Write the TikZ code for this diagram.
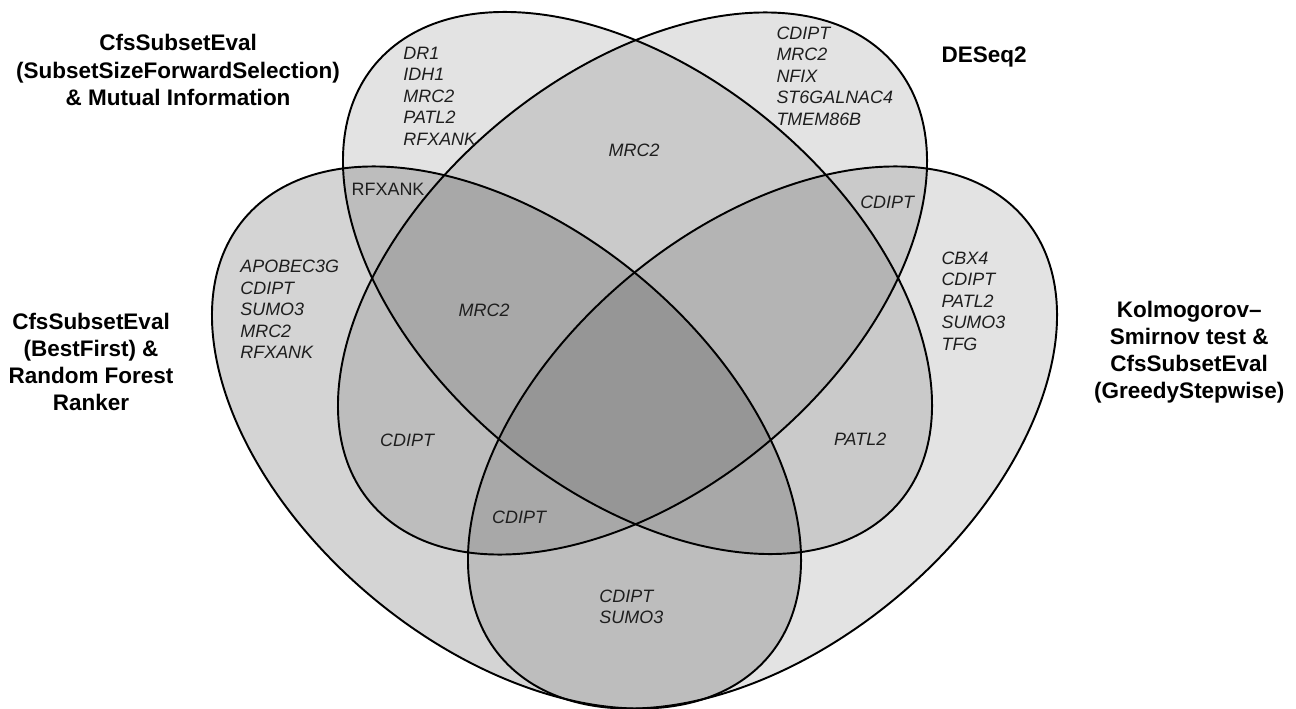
\documentclass[tikz,border=0pt]{standalone}
\usepackage{fontspec}
\setmainfont{Liberation Sans}
\definecolor{genetext}{HTML}{1E1E1E}
\begin{document}
\begin{tikzpicture}
\useasboundingbox (0,0) rectangle (25.92,-14.18);
\tikzset{
  vset/.style={line width=1.1pt, draw=black},
  vfill/.style={fill=black, fill opacity=#1},
  shapeOL/.style={shift={(10.13,-8.75)}, xscale=5.89, yscale=5.42, rotate=-45},
  shapeSS/.style={shift={(12.75,-5.66)}, xscale=5.89, yscale=5.42, rotate=-45},
  shapeDE/.style={shift={(12.65,-5.67)}, xscale=5.89, yscale=5.42, rotate=45},
  shapeOR/.style={shift={(15.25,-8.75)}, xscale=5.89, yscale=5.42, rotate=45},
  genes/.style={font=\fontsize{10.2}{12.2}\selectfont\itshape, text=genetext, align=left, inner sep=0pt, anchor=west},
  gene/.style={font=\fontsize{10.2}{12.2}\selectfont\itshape, text=genetext, inner sep=0pt},
  geneup/.style={font=\fontsize{10.2}{12.2}\selectfont, text=genetext, inner sep=0pt},
  settitle/.style={font=\fontsize{12.8}{15.4}\selectfont\bfseries, align=center, inner sep=0pt, text=black}
}
% fills
\path[shapeOL, vfill=0.17] (0,0) ellipse [x radius=1.2042, y radius=0.7416];
\path[shapeSS, vfill=0.11] (0,0) ellipse [x radius=1.2042, y radius=0.7416];
\path[shapeDE, vfill=0.11] (0,0) ellipse [x radius=1.2042, y radius=0.7416];
\path[shapeOR, vfill=0.11] (0,0) ellipse [x radius=1.2042, y radius=0.7416];
% outlines
\draw[shapeOL, vset] (0,0) ellipse [x radius=1.2042, y radius=0.7416];
\draw[shapeSS, vset] (0,0) ellipse [x radius=1.2042, y radius=0.7416];
\draw[shapeDE, vset] (0,0) ellipse [x radius=1.2042, y radius=0.7416];
\draw[shapeOR, vset] (0,0) ellipse [x radius=1.2042, y radius=0.7416];

\begin{scope}[x=0.02cm, y=-0.02cm]
% set titles
\node[settitle] (tSS) at (178,70) {CfsSubsetEval\\(SubsetSizeForwardSelection)\\\& Mutual Information};
\node[settitle] (tDE) at (984,57) {DESeq2};
\node[settitle] (tOL) at (91,362) {CfsSubsetEval\\(BestFirst) \&\\Random Forest\\Ranker};
\node[settitle] (tOR) at (1189,352) {Kolmogorov–\\Smirnov test \&\\CfsSubsetEval\\(GreedyStepwise)};
% region labels
\node[genes] (gSS) at (403,96) {DR1\\IDH1\\MRC2\\PATL2\\RFXANK};
\node[genes] (gDE) at (776,76) {CDIPT\\MRC2\\NFIX\\ST6GALNAC4\\TMEM86B};
\node[genes] (gOL) at (240,309.5) {APOBEC3G\\CDIPT\\SUMO3\\MRC2\\RFXANK};
\node[genes] (gOR) at (941,301) {CBX4\\CDIPT\\PATL2\\SUMO3\\TFG};
\node[genes] (gOLOR) at (599,606.5) {CDIPT\\SUMO3};
\node[gene] (gSSDE) at (634,150) {MRC2};
\node[geneup] (gOLSS) at (388,189) {RFXANK};
\node[gene] (gDEOR) at (887,202) {CDIPT};
\node[gene] (gOLSSDE) at (484,310) {MRC2};
\node[gene] (gOLDE) at (407,440) {CDIPT};
\node[gene] (gOLDEOR) at (519,517) {CDIPT};
\node[gene] (gSSOR) at (860,439) {PATL2};
\end{scope}
\end{tikzpicture}
\end{document}
